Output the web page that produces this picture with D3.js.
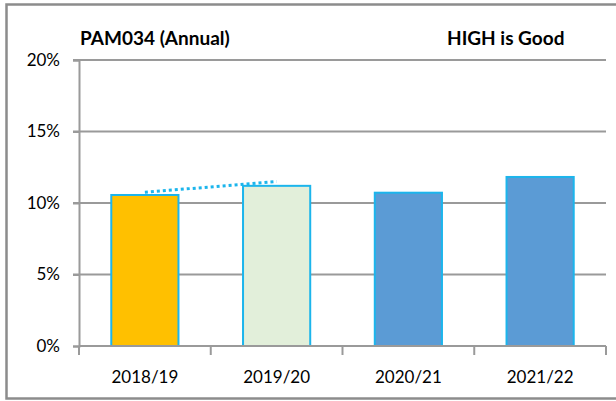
<!DOCTYPE html>
<html>
<head>
<meta charset="utf-8">
<script src="https://cdn.jsdelivr.net/npm/d3@7"></script>
<style>
  html, body { margin: 0; padding: 0; background: #fff; }
  svg { display: block; }
  text { font-family: Lato, "Liberation Sans", Arial, sans-serif; fill: #000; }
</style>
</head>
<body>
<svg id="chart" width="616" height="401"></svg>
<script>
const categories = ["2018/19", "2019/20", "2020/21", "2021/22"];
const values = [10.56, 11.2, 10.72, 11.82];
const barColors = ["#FFC000", "#E2EFDA", "#5B9BD5", "#5B9BD5"];
const trendCategories = ["2018/19", "2019/20"];
const trendValues = [10.75, 11.5];
const yTicks = [0, 5, 10, 15, 20];
const titleText = "PAM034 (Annual)";
const noteText = "HIGH is Good";

const svg = d3.select("#chart");
const FONT = 'Lato, "Liberation Sans", Arial, sans-serif';
const margin = { left: 79, top: 60 };
const plotRight = 606, plotBottom = 346;

// outer frame
svg.append("rect")
  .attr("x", 6.5).attr("y", 4.5).attr("width", 616).attr("height", 394)
  .attr("fill", "none").attr("stroke", "#8c8c8c").attr("stroke-width", 2.5);

const x = d3.scaleBand().domain(categories).range([margin.left, plotRight]).paddingInner(0.49).paddingOuter(0.245);
const xTickScale = d3.scaleBand().domain(categories).range([margin.left, plotRight]);
const y = d3.scaleLinear().domain([0, 20]).range([plotBottom, margin.top]);

// gridlines
svg.append("g").selectAll("line").data(yTicks.filter(d => d > 0)).join("line")
  .attr("x1", margin.left - 6).attr("x2", plotRight)
  .attr("y1", d => y(d)).attr("y2", d => y(d))
  .attr("stroke", "#9a9a9a").attr("stroke-width", 2);

// y axis
const yAxis = svg.append("g").attr("transform", `translate(${margin.left},0)`)
  .call(d3.axisLeft(y).tickValues(yTicks).tickFormat(d => d + "%").tickSize(6).tickPadding(13));
yAxis.select(".domain").attr("stroke", "#9a9a9a").attr("stroke-width", 2);
yAxis.selectAll(".tick line").attr("stroke", "#9a9a9a").attr("stroke-width", 2);
yAxis.selectAll("text").attr("font-size", 17).attr("fill", "#000").style("font-family", FONT);

// bars
svg.append("g").selectAll("rect").data(categories).join("rect")
  .attr("x", d => x(d)).attr("width", x.bandwidth())
  .attr("y", (d, i) => y(values[i])).attr("height", (d, i) => y(0) - y(values[i]))
  .attr("fill", (d, i) => barColors[i])
  .attr("stroke", "#1CB5EC").attr("stroke-width", 2);

// x axis
const xAxis = svg.append("g").attr("transform", `translate(0,${plotBottom})`)
  .call(d3.axisBottom(xTickScale).tickSize(0).tickPadding(25));
xAxis.select(".domain").attr("stroke", "#9a9a9a").attr("stroke-width", 2)
  .attr("d", `M${margin.left},0H${plotRight}`);
xAxis.selectAll("text").attr("font-size", 17).attr("fill", "#000").style("font-family", FONT);
const boundaries = categories.map(c => xTickScale(c)).concat([plotRight]);
xAxis.append("g").selectAll("line").data(boundaries).join("line")
  .attr("x1", d => d).attr("x2", d => d).attr("y1", 0).attr("y2", 9)
  .attr("stroke", "#9a9a9a").attr("stroke-width", 2);

// dotted trend line
const line = d3.line().x((d, i) => x(trendCategories[i]) + x.bandwidth() / 2).y(d => y(d));
svg.append("path").datum(trendValues).attr("d", line)
  .attr("fill", "none").attr("stroke", "#1CB5EC").attr("stroke-width", 3)
  .attr("stroke-dasharray", "3,3");

// titles
svg.append("text").attr("x", 80).attr("y", 45).attr("font-size", 19).attr("font-weight", "bold").text(titleText);
svg.append("text").attr("x", 447).attr("y", 45).attr("font-size", 19).attr("font-weight", "bold").text(noteText);
</script>
</body>
</html>
